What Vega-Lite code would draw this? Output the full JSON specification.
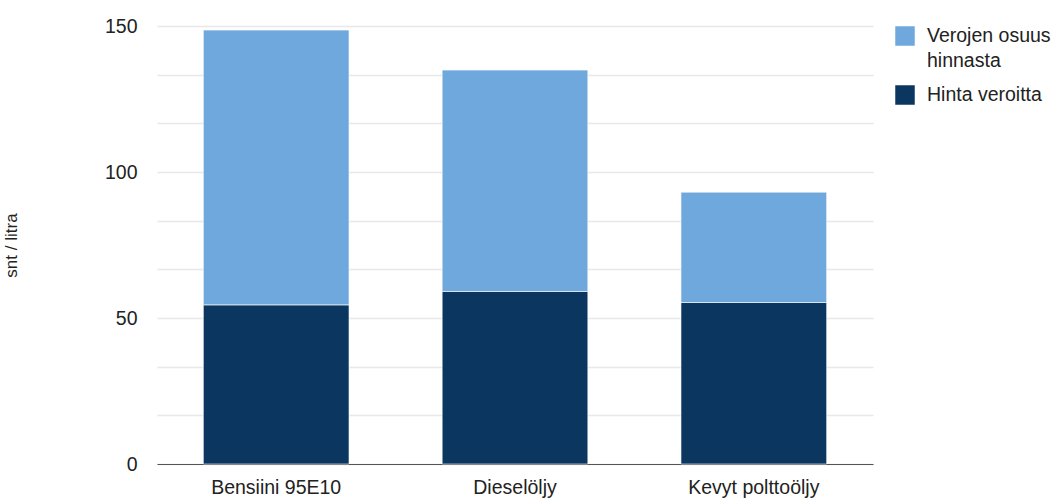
{
  "$schema": "https://vega.github.io/schema/vega-lite/v6.json",
  "autosize": "none",
  "width": 716,
  "height": 438,
  "padding": {"left": 157, "top": 26, "right": 181, "bottom": 36},
  "background": "white",
  "config": {
    "font": "Liberation Sans",
    "view": {"stroke": null},
    "style": {"guide-label": {"lineHeight": 25}}
  },
  "data": {
    "values": [
      {"polttoaine": "Bensiini 95E10", "osa": "Hinta veroitta", "snt": 54.5},
      {"polttoaine": "Bensiini 95E10", "osa": "Verojen osuus hinnasta", "snt": 94.1},
      {"polttoaine": "Dieselöljy", "osa": "Hinta veroitta", "snt": 59.1},
      {"polttoaine": "Dieselöljy", "osa": "Verojen osuus hinnasta", "snt": 75.8},
      {"polttoaine": "Kevyt polttoöljy", "osa": "Hinta veroitta", "snt": 55.3},
      {"polttoaine": "Kevyt polttoöljy", "osa": "Verojen osuus hinnasta", "snt": 37.8}
    ]
  },
  "mark": {"type": "bar", "stroke": "white", "strokeWidth": 1, "strokeOpacity": 0.6},
  "encoding": {
    "x": {
      "field": "polttoaine",
      "type": "nominal",
      "sort": null,
      "scale": {"paddingInner": 0.39, "paddingOuter": 0.194},
      "axis": {
        "title": null,
        "labelAngle": 0,
        "labelFontSize": 19.5,
        "labelColor": "#222222",
        "labelPadding": 14,
        "ticks": false,
        "domainColor": "#555555",
        "domainWidth": 1.2,
        "grid": false
      }
    },
    "y": {
      "field": "snt",
      "type": "quantitative",
      "stack": "zero",
      "scale": {"domain": [0, 150], "nice": false},
      "axis": {
        "title": "snt / litra",
        "titleFontSize": 17,
        "titleFontWeight": "normal",
        "titleColor": "#222222",
        "titleX": -137,
        "titleY": 219,
        "titleAlign": "center",
        "values": [0, 16.6667, 33.3333, 50, 66.6667, 83.3333, 100, 116.6667, 133.3333, 150],
        "labelExpr": "datum.value % 50 == 0 ? datum.label : ''",
        "labelFontSize": 19.5,
        "labelColor": "#222222",
        "labelPadding": 20,
        "ticks": false,
        "domain": false,
        "gridColor": "#e8e8e8",
        "gridWidth": 1.5
      }
    },
    "color": {
      "field": "osa",
      "type": "nominal",
      "scale": {
        "domain": ["Verojen osuus hinnasta", "Hinta veroitta"],
        "range": ["#6fa8dc", "#0a365f"]
      },
      "legend": {
        "title": null,
        "orient": "none",
        "legendX": 738,
        "legendY": 0,
        "symbolType": "square",
        "symbolSize": 380,
        "symbolStrokeWidth": 0,
        "symbolOpacity": 1,
        "labelFontSize": 19.5,
        "labelColor": "#222222",
        "labelLimit": 200,
        "labelOffset": 12,
        "rowPadding": 14,
        "labelExpr": "datum.label == 'Verojen osuus hinnasta' ? ['Verojen osuus', 'hinnasta'] : datum.label"
      }
    },
    "order": {"field": "osa", "sort": "ascending"}
  }
}
